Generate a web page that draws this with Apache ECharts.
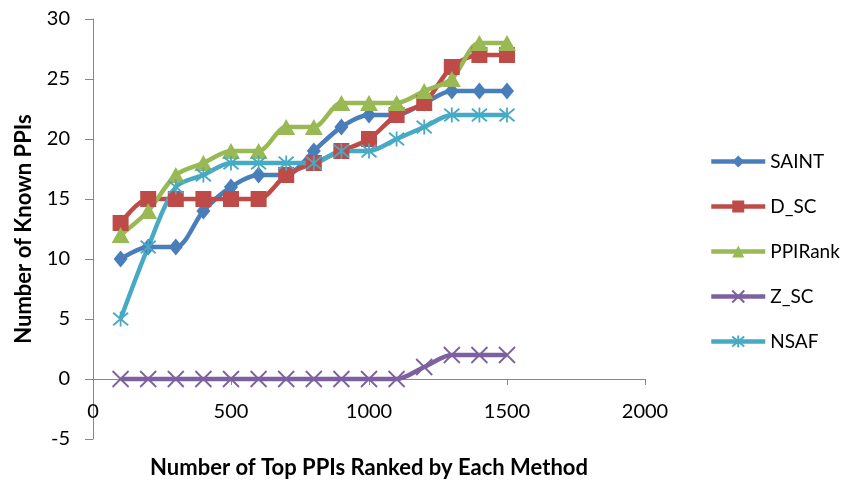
<!DOCTYPE html>
<html>
<head>
<meta charset="utf-8">
<script src="https://cdn.jsdelivr.net/npm/echarts@6/dist/echarts.min.js"></script>
<style>html,body{margin:0;padding:0;background:#fff}#c{width:846px;height:488px}</style>
</head>
<body>
<div id="c"></div>
<script>
const xValues = [100,200,300,400,500,600,700,800,900,1000,1100,1200,1300,1400,1500];
const saint   = [10,11,11,14,16,17,17,19,21,22,22,23,24,24,24];
const dsc     = [13,15,15,15,15,15,17,18,19,20,22,23,26,27,27];
const ppirank = [12,14,17,18,19,19,21,21,23,23,23,24,25,28,28];
const zsc     = [0,0,0,0,0,0,0,0,0,0,0,1,2,2,2];
const nsaf    = [5,11,16,17,18,18,18,18,19,19,20,21,22,22,22];
const seriesNames = ['SAINT','D_SC','PPIRank','Z_SC','NSAF'];
const xTitle = 'Number of Top PPIs Ranked by Each Method';
const yTitle = 'Number of Known PPIs';

const FONT = 'Lato, "Open Sans", sans-serif';
const colors = ['#4A7EBB','#BE4B48','#98B954','#7D60A0','#46AAC5'];
const pair = arr => xValues.map((x,i)=>[x,arr[i]]);

function mk(name, data, color, symbol, size, stroke){
  return {
    name, type:'line', data: pair(data), smooth:0.3,
    symbol, symbolSize:size,
    lineStyle:{color, width:4.5},
    itemStyle: stroke ? {color:'rgba(0,0,0,0)', borderColor:color, borderWidth:1.8} : {color, borderWidth:0},
    emphasis:{disabled:true}
  };
}

const chart = echarts.init(document.getElementById('c'));
chart.setOption({
  animation:false,
  color: colors,
  grid:{left:93, top:19, width:552, height:420, containLabel:false, outerBoundsMode:'none'},
  legend:{
    orient:'vertical', left:704, top:147, itemGap:26, itemWidth:54, itemHeight:15,
    lineStyle:{width:4.5},
    textStyle:{fontFamily:FONT, fontSize:19, color:'#000'},
    data: seriesNames
  },
  xAxis:{
    type:'value', min:0, max:2000, interval:500,
    name:xTitle, nameLocation:'middle', nameGap:18,
    nameTextStyle:{fontFamily:FONT, fontSize:22, fontWeight:'bold', color:'#000'},
    axisLine:{onZero:true, lineStyle:{color:'#878787', width:1}},
    axisTick:{show:true, length:6, lineStyle:{color:'#878787'}},
    axisLabel:{fontFamily:FONT, fontSize:20, color:'#000', margin:-37, formatter: v => String(v)},
    splitLine:{show:false}
  },
  yAxis:{
    type:'value', min:-5, max:30, interval:5,
    name:yTitle, nameLocation:'middle', nameGap:58, nameRotate:90,
    nameTextStyle:{fontFamily:FONT, fontSize:22, fontWeight:'bold', color:'#000'},
    axisLine:{show:true, lineStyle:{color:'#878787', width:1}},
    axisTick:{show:true, length:8, lineStyle:{color:'#878787'}},
    axisLabel:{fontFamily:FONT, fontSize:20, color:'#000', margin:23, formatter: v => String(v)},
    splitLine:{show:false}
  },
  series:[
    mk(seriesNames[0], saint, colors[0], 'diamond', [14,17], false),
    mk(seriesNames[1], dsc, colors[1], 'rect', 16, false),
    mk(seriesNames[2], ppirank, colors[2], 'triangle', [18,16], false),
    mk(seriesNames[3], zsc, colors[3], 'path://M0,0L10,10M10,0L0,10', 16, true),
    mk(seriesNames[4], nsaf, colors[4], 'path://M0,0L10,10M10,0L0,10M5,-1L5,11', 15, true)
  ]
});
</script>
</body>
</html>
